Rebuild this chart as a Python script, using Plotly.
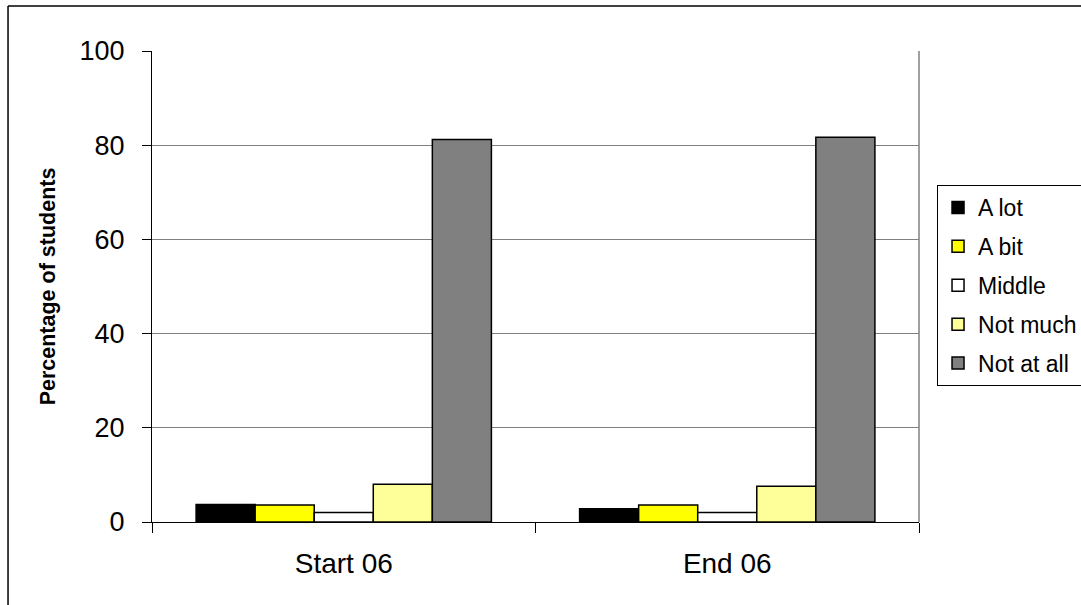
import plotly.graph_objects as go

# Survey periods and response categories
periods = ["Start 06", "End 06"]
responses = ["A lot", "A bit", "Middle", "Not much", "Not at all"]

# Percentage of students per response, one list per response (Start 06, End 06)
a_lot = [3.7, 2.8]
a_bit = [3.6, 3.6]
middle = [2.0, 2.0]
not_much = [8.0, 7.6]
not_at_all = [81.2, 81.7]

series = [a_lot, a_bit, middle, not_much, not_at_all]
colors = ["#000000", "#FFFF00", "#FFFFFF", "#FFFF99", "#808080"]

FONT = "Liberation Sans, Arial, sans-serif"

fig = go.Figure()
for name, vals, col in zip(responses, series, colors):
    fig.add_trace(go.Bar(
        name=name,
        x=periods,
        y=vals,
        legendgroup=name,
        marker=dict(color=col, line=dict(color="#000000", width=1.5)),
    ))

fig.update_layout(
    width=1081,
    height=605,
    barmode="group",
    bargap=0.23,
    bargroupgap=0,
    plot_bgcolor="#FFFFFF",
    paper_bgcolor="#FFFFFF",
    margin=dict(l=152, r=162, t=51, b=83, pad=0, autoexpand=False),
    font=dict(family=FONT, color="#000000"),
    showlegend=True,
    legend=dict(
        x=1.0235, y=0.7155, xanchor="left", yanchor="top",
        bordercolor="#000000", borderwidth=1,
        font=dict(size=23, family=FONT),
        tracegroupgap=6,
        traceorder="grouped",
        itemwidth=30,
        bgcolor="#FFFFFF",
    ),
)

fig.update_xaxes(
    type="category",
    showline=True, linecolor="#000000", linewidth=1,
    ticks="outside", tickson="boundaries", ticklen=10, tickcolor="#000000",
    tickfont=dict(size=28, family=FONT),
    showgrid=False,
    ticklabelstandoff=16,
)

fig.update_yaxes(
    range=[0, 100],
    tickvals=[0, 20, 40, 60, 80, 100],
    showline=True, linecolor="#000000", linewidth=1,
    ticks="outside", ticklen=9, tickcolor="#000000",
    tickfont=dict(size=27, family=FONT),
    showgrid=True, gridcolor="#808080", gridwidth=1,
    zeroline=False,
    ticklabelstandoff=12,
    title=dict(text="<b>Percentage of students</b>", font=dict(size=21.5, family=FONT), standoff=18),
)

# Plot-area border on the right, chart-area frame on the left and top
fig.add_shape(type="line", xref="paper", yref="paper", x0=1, x1=1, y0=0, y1=1,
              line=dict(color="#808080", width=1.5))
fig.add_shape(type="line", xref="paper", yref="paper", x0=-0.1877, x1=-0.1877, y0=-0.2, y1=1.0955,
              line=dict(color="#000000", width=1.5))
fig.add_shape(type="line", xref="paper", yref="paper", x0=-0.1877, x1=1.25, y0=1.0955, y1=1.0955,
              line=dict(color="#000000", width=1.5))

fig.write_html("out.html")
